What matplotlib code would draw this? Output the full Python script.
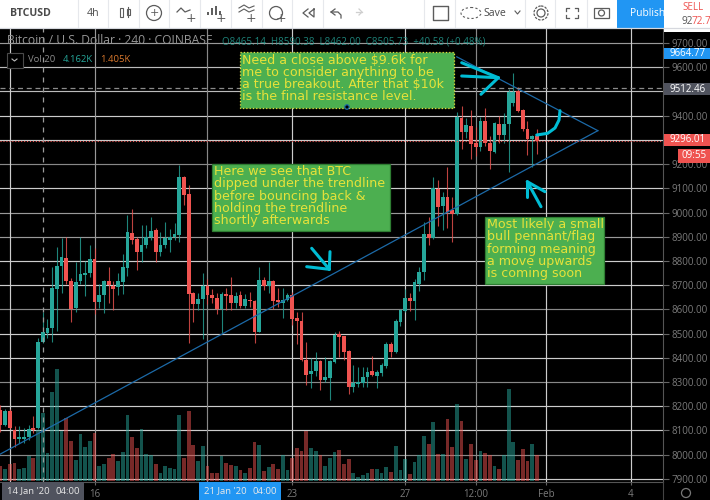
import matplotlib
matplotlib.use('Agg')
import matplotlib.pyplot as plt
from matplotlib.patches import Rectangle, Circle, Ellipse
import numpy as np

# 4h candles, ten per row
opens = [8185, 8123, 8182, 8102, 8063, 8065, 8073, 8111, 8110, 8465,
         8503, 8522, 8684, 8779, 8811, 8718, 8605, 8717, 8742, 8749,
         8808, 8629, 8660, 8716, 8698, 8691, 8713, 8772, 8915, 8890,
         8837, 8866, 8898, 8927, 8838, 8865, 8888, 8899, 8907, 9145,
         9075, 8666, 8622, 8643, 8698, 8661, 8648, 8602, 8664, 8661,
         8625, 8658, 8614, 8638, 8635, 8508, 8721, 8697, 8718, 8638,
         8628, 8638, 8661, 8563, 8551, 8391, 8332, 8346, 8386, 8308,
         8318, 8383, 8498, 8491, 8428, 8281, 8292, 8297, 8320, 8347,
         8325, 8339, 8366, 8457, 8425, 8548, 8595, 8648, 8636, 8706,
         8753, 8910, 8896, 9096, 9027, 9063, 9010, 8993, 9392, 9334,
         9358, 9286, 9269, 9379, 9288, 9250, 9365, 9320, 9364, 9451,
         9503, 9423, 9344, 9304, 9316]
closes = [8123, 8182, 8110, 8065, 8072, 8074, 8106, 8104, 8467, 8505,
          8524, 8687, 8779, 8816, 8717, 8603, 8714, 8747, 8752, 8809,
          8629, 8661, 8716, 8700, 8685, 8716, 8774, 8920, 8886, 8836,
          8867, 8898, 8924, 8838, 8865, 8894, 8899, 8910, 9145, 9072,
          8662, 8622, 8644, 8698, 8658, 8648, 8602, 8664, 8655, 8625,
          8657, 8614, 8642, 8634, 8508, 8721, 8698, 8718, 8635, 8629,
          8638, 8661, 8560, 8551, 8391, 8329, 8347, 8386, 8308, 8320,
          8387, 8493, 8487, 8425, 8281, 8297, 8300, 8322, 8343, 8329,
          8343, 8370, 8457, 8425, 8551, 8597, 8648, 8635, 8713, 8754,
          8910, 8896, 9100, 9024, 9065, 9003, 8993, 9396, 9334, 9361,
          9284, 9269, 9379, 9286, 9254, 9368, 9320, 9365, 9499, 9499,
          9420, 9344, 9304, 9316, 9296]
highs = [8205, 8190, 8190, 8120, 8118, 8110, 8123, 8160, 8482, 8590,
         8560, 8776, 8857, 8895, 8900, 8730, 8797, 8899, 8801, 8866,
         8852, 8705, 8721, 8774, 8718, 8752, 8827, 8990, 9014, 8899,
         8948, 8948, 8980, 8935, 8921, 8960, 8931, 8955, 9196, 9152,
         9114, 8670, 8668, 8752, 8724, 8683, 8666, 8670, 8688, 8735,
         8673, 8677, 8662, 8673, 8640, 8774, 8735, 8794, 8722, 8687,
         8687, 8668, 8670, 8590, 8590, 8466, 8400, 8425, 8392, 8405,
         8392, 8508, 8512, 8440, 8432, 8370, 8363, 8363, 8363, 8408,
         8350, 8378, 8465, 8466, 8560, 8600, 8684, 8666, 8724, 8774,
         8962, 8983, 9148, 9135, 9085, 9187, 9065, 9416, 9441, 9389,
         9423, 9354, 9396, 9430, 9317, 9375, 9399, 9410, 9510, 9575,
         9520, 9426, 9379, 9320, 9344]
lows = [8095, 8118, 8105, 8032, 8048, 8048, 8061, 8090, 8105, 8462,
        8482, 8465, 8512, 8668, 8706, 8549, 8590, 8705, 8657, 8735,
        8581, 8605, 8586, 8628, 8597, 8660, 8664, 8738, 8870, 8764,
        8794, 8852, 8886, 8797, 8820, 8852, 8838, 8886, 8877, 9031,
        8462, 8549, 8597, 8477, 8622, 8626, 8581, 8501, 8597, 8597,
        8606, 8606, 8606, 8611, 8462, 8508, 8680, 8666, 8600, 8611,
        8563, 8635, 8535, 8457, 8385, 8288, 8274, 8325, 8267, 8301,
        8226, 8380, 8405, 8391, 8251, 8260, 8281, 8281, 8281, 8325,
        8274, 8325, 8360, 8405, 8420, 8533, 8590, 8595, 8556, 8677,
        8721, 8866, 8890, 8945, 8928, 8937, 8880, 8990, 9262, 9306,
        9220, 9233, 9254, 9275, 9180, 9245, 9288, 9286, 9169, 9440,
        9415, 9337, 9238, 9189, 9242]
volumes = [0.94, 0.72, 1.04, 1.10, 0.74, 0.80, 1.53, 1.39, 3.13, 4.15,
           1.70, 5.48, 6.85, 3.09, 3.87, 2.43, 1.29, 2.86, 2.07, 2.43,
           2.92, 0.92, 1.04, 1.43, 1.66, 1.25, 1.76, 4.07, 2.72, 2.00,
           3.17, 1.66, 1.60, 1.04, 0.47, 0.90, 0.80, 0.76, 4.03, 1.39,
           4.31, 2.19, 1.21, 2.15, 0.94, 0.51, 0.47, 1.53, 1.08, 1.00,
           0.90, 0.65, 0.51, 0.80, 2.39, 2.19, 0.61, 0.86, 1.04, 0.72,
           1.60, 0.67, 1.39, 2.02, 1.86, 3.09, 2.00, 1.82, 1.57, 0.92,
           1.43, 1.76, 1.90, 1.04, 1.33, 0.51, 0.22, 0.35, 0.51, 0.76,
           0.76, 0.51, 0.86, 0.55, 2.15, 0.67, 1.35, 0.43, 1.15, 1.57,
           2.76, 2.25, 3.60, 1.66, 1.66, 3.78, 2.09, 4.74, 3.68, 1.37,
           2.29, 1.29, 1.82, 1.70, 1.57, 0.90, 0.74, 1.60, 5.64, 2.39,
           1.29, 1.96, 1.23, 2.25, 1.62]

price_ticks = [9700, 9600, 9500, 9400, 9300, 9200, 9100, 9000, 8900, 8800,
               8700, 8600, 8500, 8400, 8300, 8200, 8100, 8000, 7900]
# 9500 and 9300 sit behind the price flags
price_labels = ['9700.00', '9600.00', '', '9400.00', '', '9200.00', '9100.00', '9000.00', '8900.00', '8800.00',
                '8700.00', '8600.00', '8500.00', '8400.00', '8300.00', '8200.00', '8100.00', '8000.00', '7900.00']
price_grid_greys = ['#999999', '#bbbbbb', '#bbbbbb', '#cccccc', '#cccccc', '#888888', '#cccccc',
                    '#999999', '#999999', '#cccccc', '#cccccc', '#888888', '#cccccc', '#cccccc',
                    '#888888', '#cccccc', '#cccccc', '#888888', '#cccccc']
time_ticks = [2, 20, 44, 62, 86, 101, 116, 134]
time_labels = ['', '16', '', '23', '27', '12:00', 'Feb', '4']
time_grid_greys = ['#cccccc', '#999999', '#888888', '#cccccc', '#cccccc', '#888888', '#cccccc', '#cccccc']

# trendlines in bar index / price
lower_trend_x = [-0.085, 126.95]
lower_trend_y = [8002, 9338]
upper_trend_x = [96.98, 126.95]
upper_trend_y = [9643, 9338]

cursor_bar = 9
cursor_price = 9512.46
last_price = 9296.01

GREEN = '#26a69a'
RED = '#ef5350'
CYAN = '#00bcd4'

W, H = 710, 500
BAR_LIMS = (-0.085, 140.8)
PRICE_LIMS = (7887.3, 9761.9)


def px_axes(fig, left, top, right, bottom):
    return fig.add_axes([left / W, 1 - bottom / H, (right - left) / W, (bottom - top) / H])


fig = plt.figure(figsize=(7.1, 5), dpi=100, facecolor='black')

opens = np.array(opens)
closes = np.array(closes)
x = np.arange(len(opens))
up = closes >= opens
colors = np.where(up, GREEN, RED)

# grid at the bottom so it shows through the volume bars
ax_g = px_axes(fig, 0, 28, 663, 482)
ax_g.set_facecolor('black')
ax_g.set_xlim(*BAR_LIMS)
ax_g.set_ylim(*PRICE_LIMS)
ax_g.axis('off')
for t, c in zip(price_ticks, price_grid_greys):
    ax_g.axhline(t, color=c, lw=0.85)
for t, c in zip(time_ticks, time_grid_greys):
    ax_g.axvline(t, color=c, lw=0.85)

ax_v = px_axes(fig, 0, 28, 663, 481)
ax_v.patch.set_alpha(0)
ax_v.set_xlim(*BAR_LIMS)
ax_v.set_ylim(0, 27.8)
ax_v.axis('off')
ax_v.bar(x, volumes, width=0.8, color=colors, alpha=0.5)

ax = px_axes(fig, 0, 28, 663, 482)
ax.patch.set_alpha(0)
ax.set_xlim(*BAR_LIMS)
ax.set_ylim(*PRICE_LIMS)
ax.vlines(x, lows, highs, colors=colors, lw=0.8, alpha=0.8, zorder=3)
ax.bar(x, np.abs(closes - opens), bottom=np.minimum(opens, closes), width=0.8, color=colors, zorder=4)
ax.plot(lower_trend_x, lower_trend_y, color='#1c6aa8', lw=0.9, zorder=5)
ax.plot(upper_trend_x, upper_trend_y, color='#1c6aa8', lw=0.9, zorder=5)
ax.axvline(cursor_bar, color='#9a9a9a', lw=0.9, ls=(0, (4, 4)), zorder=5)
ax.axhline(cursor_price, color='#8a8a8a', lw=0.9, ls=(0, (4, 3)), zorder=5)
ax.axhline(last_price, color=RED, lw=0.8, ls=':', zorder=5)

ax.yaxis.tick_right()
ax.set_yticks(price_ticks)
ax.set_yticklabels(price_labels, color='#7b7b7b', fontsize=7, family='Open Sans')
ax.set_xticks(time_ticks)
ax.set_xticklabels(time_labels, color='#7b7b7b', fontsize=7, family='Open Sans')
ax.tick_params(axis='y', length=4, color='#666666', pad=2, width=0.8)
ax.tick_params(axis='x', length=2, color='#666666', pad=3, width=0.8)
for s in ['top', 'left']:
    ax.spines[s].set_visible(False)
ax.spines['right'].set_color('#555555')
ax.spines['bottom'].set_color('#555555')

# everything else is screen furniture, drawn in pixel coordinates
ui = fig.add_axes([0, 0, 1, 1], zorder=10)
ui.set_xlim(0, W)
ui.set_ylim(H, 0)
ui.axis('off')
ui.patch.set_alpha(0)

ui.add_patch(Rectangle((0, 0), W, 27.5, fc='white', ec='none'))
ui.plot([0, W], [27.5, 27.5], color='#d6d8de', lw=0.9)
for d in [78, 108, 139, 169, 200, 231, 262, 292, 323, 424, 455, 525, 555, 587]:
    ui.plot([d, d], [0, 27], color='#e6e8ec', lw=0.8)
ui.text(10, 13, 'BTCUSD', fontsize=7.6, fontweight='bold', color='#4a4a4a', va='center', family='Open Sans')
ui.text(93, 13, '4h', fontsize=7.6, color='#4a4a4a', va='center', ha='center', family='Open Sans')

icon = '#5c5c5c'
# candle icon
ui.add_patch(Rectangle((120, 7.5), 3, 9, fc='none', ec=icon, lw=0.8))
ui.plot([121.5, 121.5], [5, 21], color=icon, lw=0.8, zorder=0)
ui.add_patch(Rectangle((127, 9), 2.5, 6, fc='none', ec=icon, lw=0.8))
ui.plot([128.2, 128.2], [7, 17], color=icon, lw=0.8)
# compare
ui.add_patch(Circle((154, 13), 7.5, fc='none', ec=icon, lw=0.9))
ui.text(154, 12.5, '+', fontsize=8, color=icon, ha='center', va='center')
# indicators and friends
ui.plot([177, 181, 185, 190], [12, 8, 12, 10], color=icon, lw=0.9)
ui.text(191, 18, '+', fontsize=9, color=icon, ha='center', va='center')
ui.vlines([208, 212, 216, 220], [12, 8, 6, 11], [15, 15, 15, 15], color=icon, lw=1.4)
ui.text(221, 18, '+', fontsize=9, color=icon, ha='center', va='center')
ui.plot([239, 244, 249, 254], [8, 5, 8, 6], color=icon, lw=0.8)
ui.plot([239, 244, 249, 254], [12, 9, 12, 10], color=icon, lw=0.8)
ui.text(251, 18, '+', fontsize=9, color=icon, ha='center', va='center')
ui.add_patch(Circle((276, 13), 6.5, fc='white', ec=icon, lw=0.9))
ui.text(281, 18, '+', fontsize=9, color=icon, ha='center', va='center')
# replay / undo
ui.plot([308, 303, 308], [9, 13, 17], color=icon, lw=0.9)
ui.plot([314, 309, 314, 314], [9, 13, 17, 9], color=icon, lw=0.9)
ui.plot([335, 331, 335], [9, 12, 15], color=icon, lw=0.9)
ui.plot([331, 338, 341, 341], [12, 12, 15, 18], color=icon, lw=0.9)
ui.plot([356, 362], [12, 12], color='#cfcfcf', lw=0.9)
ui.plot([359, 362, 359], [9, 12, 15], color='#cfcfcf', lw=0.9)
# layout square, save, settings, fullscreen, snapshot
ui.add_patch(Rectangle((433, 6), 15, 14, fc='white', ec=icon, lw=1, joinstyle='round'))
ui.add_patch(Ellipse((471, 13), 20, 11, fc='none', ec=icon, lw=0.8, ls=(0, (2, 2))))
ui.text(483, 13, 'Save', fontsize=7.6, color='#4a4a4a', va='center', family='Open Sans')
ui.plot([515, 517.5, 520], [11, 14, 11], color=icon, lw=0.8)
ui.add_patch(Circle((541, 13), 4, fc='none', ec=icon, lw=0.9))
ui.add_patch(Circle((541, 13), 7, fc='none', ec=icon, lw=0.9, ls=(0, (2, 1))))
for cx, cy, dx, dy in [(566, 8, 1, 1), (578, 8, -1, 1), (566, 18, 1, -1), (578, 18, -1, -1)]:
    ui.plot([cx + 3 * dx, cx, cx], [cy, cy, cy + 3 * dy], color=icon, lw=0.9)
ui.add_patch(Rectangle((594, 8), 15, 10, fc='none', ec=icon, lw=0.9))
ui.add_patch(Circle((601.5, 13), 3, fc='none', ec=icon, lw=0.9))

ui.add_patch(Rectangle((617, 0), 47, 27.5, fc='#2196f3', ec='none'))
ui.text(630, 13, 'Publish', fontsize=7.4, color='white', va='center', family='Open Sans')
ui.add_patch(Rectangle((664, 0), 46, 32, fc='white', ec='none'))
ui.text(682, 8, 'SELL', fontsize=7, color=RED, va='center', family='Open Sans')
ui.text(682, 21, '92', fontsize=7.2, color='#555555', va='center', family='Open Sans')
ui.text(692, 21, '72.7', fontsize=7.2, color=RED, va='center', family='Open Sans')

# legend rows
ui.text(7, 41, 'Bitcoin / U.S. Dollar · 240 · COINBASE', fontsize=8.7, color='#969696', va='center', family='Open Sans')
ui.text(222, 41.5, 'O8465.14  H8590.38  L8462.00  C8505.73  +40.58 (+0.48%)', fontsize=7, color=GREEN, alpha=0.8,
        va='center', family='Open Sans')
ui.add_patch(Rectangle((6.5, 52.5), 16, 15, fc='black', ec='#4a4a4a', lw=0.8))
ui.plot([12, 14.5, 17], [59, 61, 59], color='#bbbbbb', lw=0.8)
ui.text(28, 60, 'Vol 20', fontsize=6.8, color='#8c8c8c', va='center', family='Open Sans')
ui.text(63, 60, '4.162K', fontsize=6.8, color=GREEN, va='center', family='Open Sans')
ui.text(100, 60, '1.405K', fontsize=6.8, color='#d9782d', va='center', family='Open Sans')

# note boxes
note_style = dict(fontsize=9.1, color='#e6e23a', va='top', linespacing=0.93, zorder=12)
ui.add_patch(Rectangle((240, 52), 213.5, 55.5, fc='#4caf50', ec='#e6e23a', lw=0.9, ls=':', zorder=11))
ui.text(242, 53.5, 'Need a close above $9.6k for\nme to consider anything to be\na true breakout. After that $10k\nis the final resistance level.',
        **note_style)
ui.add_patch(Circle((347, 107), 2.2, fc='black', ec='#1c6aa8', lw=0.9, zorder=12))
ui.add_patch(Rectangle((212, 163.5), 177.5, 67.5, fc='#4caf50', ec='#2e7d32', lw=0.9, zorder=11))
ui.text(214, 165, 'Here we see that BTC\ndipped under the trendline\nbefore bouncing back &\nholding the trendline\nshortly afterwards', **note_style)
ui.add_patch(Rectangle((485, 216.5), 119, 67.5, fc='#4caf50', ec='#2e7d32', lw=0.9, zorder=11))
ui.text(487, 218, 'Most likely a small\nbull pennant/flag\nforming meaning\na move upwards\nis coming soon', **note_style)

# hand drawn arrows
strokes = [
    ([461.7, 498.3], [62.7, 77.7]), ([461.7, 498.3], [76, 77.7]), ([481, 498.3], [94.3, 77.7]),
    ([527.3, 527.3], [181.7, 196.7]), ([527.3, 545], [181.7, 191.7]), ([527.3, 541], [181.7, 206.7]),
    ([311.7, 329.3], [248.3, 269.3]), ([306.7, 329.3], [266.7, 269.3]), ([330, 329.3], [251.7, 269.3]),
    ([536.7, 547.7, 555, 559, 560], [135, 133.3, 128, 120, 110.7]),
]
for sx, sy in strokes:
    ui.plot(sx, sy, color=CYAN, lw=2.2, solid_capstyle='round', solid_joinstyle='round', zorder=9)

# price flags on the right axis
for top, bot, label, c in [(48, 59, '9664.77', '#2196f3'), (83, 95, '9512.46', '#50535e'), (134, 146, '9296.01', RED)]:
    ui.add_patch(Rectangle((663.5, top), 46.5, bot - top, fc=c, ec='none'))
    ui.text(670, (top + bot) / 2, label, fontsize=7, color='white', va='center', family='Open Sans')
ui.add_patch(Rectangle((678, 149), 32, 14, fc=RED, ec='none'))
ui.text(694, 156, '09:55', fontsize=7, color='white', va='center', ha='center', family='Open Sans')

# time flags on the bottom axis
for left, right, date, clock, c in [(2, 84, "14 Jan '20", '04:00', '#50535e'), (199, 281, "21 Jan '20", '04:00', '#2196f3')]:
    ui.add_patch(Rectangle((left, 482), right - left, 18, fc=c, ec='none'))
    ui.text(left + 5, 491, date, fontsize=6.8, color='#e8e8e8', va='center', family='Open Sans')
    ui.text(right - 4, 491, clock, fontsize=6.8, color='#e8e8e8', va='center', ha='right', family='Open Sans')

# settings gear in the corner
ui.add_patch(Circle((686, 493), 4.5, fc='none', ec='#777777', lw=0.9))
ui.plot([663, 663], [482, 500], color='#444444', lw=0.8)

fig.savefig('out.png', dpi=100, facecolor='black')
